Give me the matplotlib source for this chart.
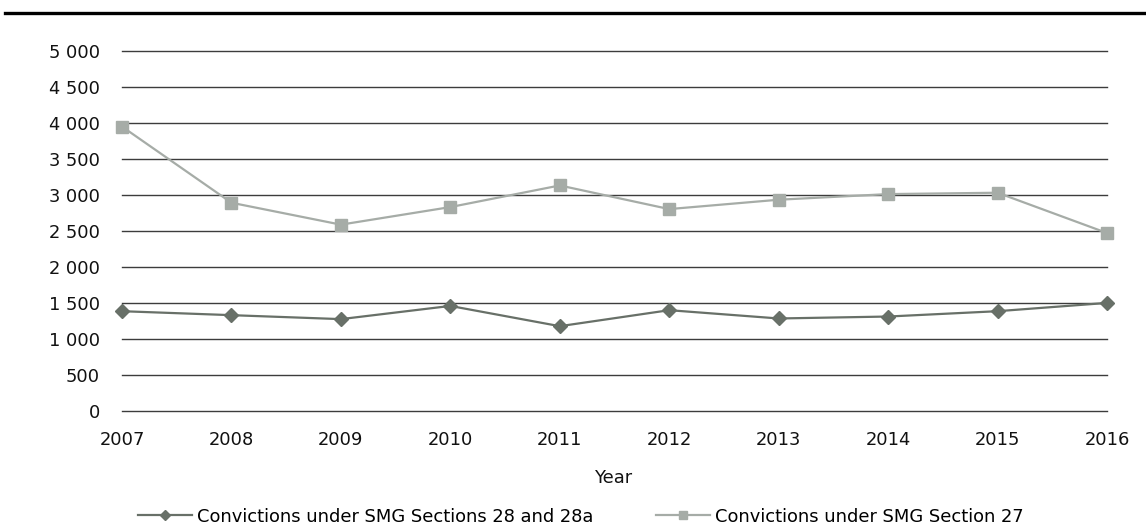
import matplotlib
matplotlib.use("Agg")
import matplotlib.pyplot as plt
from matplotlib.lines import Line2D

years = [2007, 2008, 2009, 2010, 2011, 2012, 2013, 2014, 2015, 2016]
sections_28 = [1385, 1330, 1275, 1458, 1177, 1399, 1284, 1311, 1385, 1500]
section_27 = [3947, 2890, 2586, 2830, 3130, 2802, 2932, 3010, 3029, 2470]
y_ticks = [0, 500, 1000, 1500, 2000, 2500, 3000, 3500, 4000, 4500, 5000]
y_tick_labels = ["0", "500", "1 000", "1 500", "2 000", "2 500", "3 000",
                 "3 500", "4 000", "4 500", "5 000"]
label_28 = "Convictions under SMG Sections 28 and 28a"
label_27 = "Convictions under SMG Section 27"
x_label = "Year"

plt.rcParams['font.family'] = ['DejaVu Sans']
FS = 12.9
DARK = "#687068"
LIGHT = "#a6aca7"
GRID = "#3c3c3c"

fig = plt.figure(figsize=(11.46, 5.26), dpi=100)
ax = fig.add_axes([122/1146, 1-411/526, (1107-122)/1146, (411-50.7)/526])

for y in y_ticks:
    ax.axhline(y, color=GRID, lw=1.0, zorder=1, clip_on=False)

ax.plot(years, sections_28, color=DARK, lw=1.6, marker='D', ms=7.2,
        mec=DARK, mfc=DARK, label=label_28, zorder=3, clip_on=False)
ax.plot(years, section_27, color=LIGHT, lw=1.6, marker='s', ms=8.2,
        mec=LIGHT, mfc=LIGHT, label=label_27, zorder=3, clip_on=False)

ax.set_xlim(years[0], years[-1])
ax.set_ylim(0, 5000)
ax.set_xticks(years)
ax.set_xticklabels([str(y) for y in years], fontsize=FS, color="#111111")
ax.set_yticks(y_ticks)
ax.set_yticklabels(y_tick_labels, fontsize=FS, color="#111111")
ax.tick_params(axis='x', length=0, pad=14.5)
ax.tick_params(axis='y', length=0, pad=15.8)
for s in ax.spines.values():
    s.set_visible(False)

fig.text(614/1146, 1-483/526, x_label, fontsize=FS, ha='center',
         va='baseline', color="#111111")

leg = fig.legend(loc='center left', bbox_to_anchor=(138/1146, 1-516.5/526),
                 ncol=2, frameon=False, fontsize=FS, handlelength=3.0,
                 handletextpad=0.28, columnspacing=3.5, borderpad=0,
                 borderaxespad=0, markerscale=0.75)

fig.add_artist(Line2D([5/1146, 1.0], [1-12.5/526, 1-12.5/526],
                      transform=fig.transFigure, color="black", lw=2.4))

fig.savefig("out.png", dpi=100)
